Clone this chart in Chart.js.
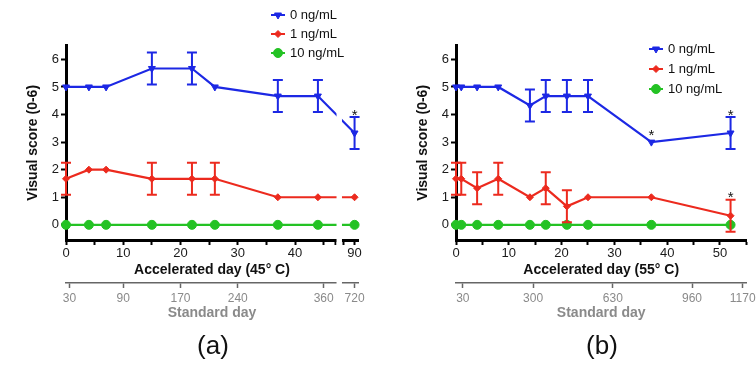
<!DOCTYPE html>
<html>
<head>
<meta charset="utf-8">
<script src="https://cdn.jsdelivr.net/npm/chart.js@4.4.1/dist/chart.umd.min.js"></script>
<style>
html,body{margin:0;padding:0;background:#fff;}
#wrap{position:relative;width:756px;height:366px;overflow:hidden;}
canvas{position:absolute;top:0;}
#ca{left:0;}
#cb{left:378px;}
</style>
</head>
<body>
<div id="wrap">
<canvas id="ca" width="378" height="366"></canvas>
<canvas id="cb" width="378" height="366"></canvas>
</div>
<script>
// ---------- data ----------
const seriesNames = ['0 ng/mL', '1 ng/mL', '10 ng/mL'];

// panel (a): accelerated at 45 C
const daysA     = [0, 4, 7, 15, 22, 26, 37, 44, 90];
const blueA     = [5, 5, 5, 5.67, 5.67, 5, 4.67, 4.67, 3.33];
const blueErrA  = [0, 0, 0, 0.58, 0.58, 0, 0.58, 0.58, 0.58];
const redA      = [1.67, 2, 2, 1.67, 1.67, 1.67, 1, 1, 1];
const redErrA   = [0.58, 0, 0, 0.58, 0.58, 0.58, 0, 0, 0];
const greenA    = [0, 0, 0, 0, 0, 0, 0, 0, 0];
const greenErrA = [0, 0, 0, 0, 0, 0, 0, 0, 0];
const blueStarA = [0, 0, 0, 0, 0, 0, 0, 0, 1];
const redStarA  = [0, 0, 0, 0, 0, 0, 0, 0, 0];
const greenStarA= [0, 0, 0, 0, 0, 0, 0, 0, 0];

// panel (b): accelerated at 55 C
const daysB     = [0, 1, 4, 8, 14, 17, 21, 25, 37, 52];
const blueB     = [5, 5, 5, 5, 4.33, 4.67, 4.67, 4.67, 3, 3.33];
const blueErrB  = [0, 0, 0, 0, 0.58, 0.58, 0.58, 0.58, 0, 0.58];
const redB      = [1.67, 1.67, 1.33, 1.67, 1, 1.33, 0.67, 1, 1, 0.33];
const redErrB   = [0.58, 0.58, 0.58, 0.58, 0, 0.58, 0.58, 0, 0, 0.58];
const greenB    = [0, 0, 0, 0, 0, 0, 0, 0, 0, 0];
const greenErrB = [0, 0, 0, 0, 0, 0, 0, 0, 0, 0];
const blueStarB = [0, 0, 0, 0, 0, 0, 0, 0, 1, 1];
const redStarB  = [0, 0, 0, 0, 0, 0, 0, 0, 0, 1];
const greenStarB= [0, 0, 0, 0, 0, 0, 0, 0, 0, 0];

// tick labels
const accelTicksA = [0, 10, 20, 30, 40, 90];
const accelMinorA = [5, 15, 25, 35, 45];
const stdLabelsA  = ['30', '90', '170', '240', '360', '720'];
const stdAtA      = [0.6, 10, 20, 30, 45, 90];      // accelerated day under each standard tick
const accelTicksB = [0, 10, 20, 30, 40, 50];
const accelMinorB = [5, 15, 25, 35, 45, 55];
const stdLabelsB  = ['30', '300', '630', '960', '1170'];
const stdAtB      = [1.3, 14.6, 29.7, 44.7, 54.3];
const yTicks      = [0, 1, 2, 3, 4, 5, 6];

// ---------- style ----------
const FONT = "Arial, 'Liberation Sans', sans-serif";
const COLORS = ['#1c28e4', '#ec2a1e', '#24c224'];
const MARKS = [
  {style: 'triangle', rot: 180, r: 4},
  {style: 'rectRot', rot: 0, r: 3.5},
  {style: 'circle', rot: 0, r: 4.5}
];

// broken axis for panel (a): 0..47 kept, 88..90.6 shown after gap
const BREAK_A = {from: 47, to: 48.4, resume: 88};
function mapA(d) { return d <= BREAK_A.from ? d : d - BREAK_A.resume + BREAK_A.to; }
function ident(d) { return d; }

function makeSets(days, mapX, vals, errs, stars) {
  return vals.map((v, k) => ({
    label: seriesNames[k],
    data: days.map((d, i) => ({x: mapX(d), y: v[i]})),
    errors: errs[k],
    stars: stars[k],
    borderColor: COLORS[k],
    backgroundColor: COLORS[k],
    pointBackgroundColor: COLORS[k],
    pointBorderColor: COLORS[k],
    borderWidth: 2.2,
    pointRadius: MARKS[k].r,
    pointStyle: MARKS[k].style,
    pointRotation: MARKS[k].rot,
    pointBorderWidth: 1,
    tension: 0,
    clip: false
  }));
}

// ---------- plugins ----------
const errorBars = {
  id: 'errorBars',
  afterDatasetsDraw(chart) {
    const ctx = chart.ctx, ys = chart.scales.y;
    chart.data.datasets.forEach((ds, di) => {
      const meta = chart.getDatasetMeta(di);
      ctx.save();
      ctx.strokeStyle = ds.borderColor;
      ctx.lineWidth = 2;
      meta.data.forEach((el, i) => {
        const e = ds.errors ? ds.errors[i] : 0;
        if (!e) return;
        const v = ds.data[i].y;
        const t = ys.getPixelForValue(v + e), b = ys.getPixelForValue(v - e);
        ctx.beginPath();
        ctx.moveTo(el.x, t); ctx.lineTo(el.x, b);
        ctx.moveTo(el.x - 5, t); ctx.lineTo(el.x + 5, t);
        ctx.moveTo(el.x - 5, b); ctx.lineTo(el.x + 5, b);
        ctx.stroke();
      });
      ctx.restore();
    });
  }
};

const starMarks = {
  id: 'starMarks',
  afterDatasetsDraw(chart) {
    const ctx = chart.ctx, ys = chart.scales.y;
    ctx.save();
    ctx.fillStyle = '#111';
    ctx.font = '15px ' + FONT;
    ctx.textAlign = 'center';
    ctx.textBaseline = 'alphabetic';
    chart.data.datasets.forEach((ds, di) => {
      const meta = chart.getDatasetMeta(di);
      meta.data.forEach((el, i) => {
        if (!ds.stars || !ds.stars[i]) return;
        const e = ds.errors ? ds.errors[i] : 0;
        const v = ds.data[i].y;
        let cy;
        if (e) cy = ys.getPixelForValue(v + e) - 6;
        else cy = ys.getPixelForValue(v) - 11;
        ctx.fillText('*', el.x, cy + 8.5);
      });
    });
    ctx.restore();
  }
};

const axisBreak = {
  id: 'axisBreak',
  afterDraw(chart, args, opts) {
    if (!opts || !opts.enabled) return;
    const ctx = chart.ctx, xs = chart.scales.x, x2 = chart.scales.x2;
    const l = xs.getPixelForValue(opts.from), r = xs.getPixelForValue(opts.to);
    ctx.save();
    ctx.fillStyle = '#fff';
    ctx.fillRect(l, chart.chartArea.top, r - l, x2.top + 4 - chart.chartArea.top);
    ctx.restore();
  }
};

const customLegend = {
  id: 'customLegend',
  afterDraw(chart, args, opts) {
    const ctx = chart.ctx;
    const H = Chart.helpers;
    chart.data.datasets.forEach((ds, i) => {
      const x = opts.x, y = opts.y + i * opts.dy;
      ctx.save();
      ctx.strokeStyle = ds.borderColor;
      ctx.lineWidth = 2;
      ctx.beginPath(); ctx.moveTo(x - 7, y); ctx.lineTo(x + 7, y); ctx.stroke();
      ctx.fillStyle = ds.pointBackgroundColor;
      ctx.strokeStyle = ds.pointBorderColor;
      ctx.lineWidth = 1;
      if (H && H.drawPoint) {
        H.drawPoint(ctx, {pointStyle: ds.pointStyle, radius: ds.pointRadius, rotation: ds.pointRotation, borderWidth: 1}, x, y);
      } else {
        ctx.beginPath(); ctx.arc(x, y, ds.pointRadius, 0, Math.PI * 2); ctx.fill();
      }
      ctx.fillStyle = '#111';
      ctx.font = '13px ' + FONT;
      ctx.textAlign = 'left';
      ctx.textBaseline = 'middle';
      ctx.fillText(ds.label, x + 12, y + 0.5);
      ctx.restore();
    });
  }
};

const panelLabel = {
  id: 'panelLabel',
  afterDraw(chart, args, opts) {
    const ctx = chart.ctx;
    ctx.save();
    ctx.fillStyle = '#111';
    ctx.font = '26px ' + FONT;
    ctx.textAlign = 'center';
    ctx.textBaseline = 'middle';
    ctx.fillText(opts.text, opts.x, opts.y);
    ctx.restore();
  }
};

function labeler(pos, labs) {
  return function (v) {
    for (let i = 0; i < pos.length; i++) if (Math.abs(pos[i] - v) < 1e-6) return labs[i];
    return '';
  };
}

function buildChart(id, p) {
  const accPos = p.accelTicks.map(p.mapX);
  const tickPos = accPos.concat(p.accelMinor.map(p.mapX), p.extraTicks).sort((a, b) => a - b);
  const stdPos = p.stdAt.map(p.mapX);
  return new Chart(document.getElementById(id), {
    type: 'line',
    data: {datasets: p.datasets},
    options: {
      responsive: false,
      animation: false,
      events: [],
      layout: {padding: {top: 45.6, right: p.padRight, left: 0, bottom: 0}},
      plugins: {
        legend: {display: false},
        tooltip: {enabled: false},
        customLegend: p.legend,
        panelLabel: p.label,
        axisBreak: p.axisBreak
      },
      scales: {
        x: {
          type: 'linear', position: 'bottom', min: 0, max: p.xMax,
          afterBuildTicks: s => { s.ticks = tickPos.map(v => ({value: v})); },
          afterFit: s => { s.height = 43; },
          ticks: {autoSkip: false, maxRotation: 0, padding: 1, color: '#1a1a1a',
                  font: {family: FONT, size: 13}, callback: labeler(accPos, p.accelTicks.map(String))},
          grid: {drawOnChartArea: false, drawTicks: true, tickLength: 5, tickWidth: 2, tickColor: '#000'},
          border: {display: true, color: '#000', width: 3},
          title: {display: true, text: p.xTitle, color: '#111',
                  font: {family: FONT, size: 14, weight: 'bold'}, padding: {top: 0, bottom: 4.6}}
        },
        x2: {
          type: 'linear', position: 'bottom', min: 0, max: p.xMax,
          afterBuildTicks: s => { s.ticks = stdPos.map(v => ({value: v})); },
          afterFit: s => { s.height = 83; s.paddingLeft = 0; s.paddingRight = 0; },
          ticks: {autoSkip: false, maxRotation: 0, padding: 3, color: '#8a8a8a',
                  font: {family: FONT, size: 12}, callback: labeler(stdPos, p.stdLabels)},
          grid: {drawOnChartArea: false, drawTicks: true, tickLength: 5, tickWidth: 1.5, tickColor: '#666'},
          border: {display: true, color: '#666', width: 1.5},
          title: {display: true, text: 'Standard day', color: '#8a8a8a',
                  font: {family: FONT, size: 14, weight: 'bold'}, padding: {top: 0, bottom: 44.6}}
        },
        y: {
          type: 'linear', position: 'left', min: -0.55, max: 6.5,
          afterBuildTicks: s => { s.ticks = yTicks.map(v => ({value: v})); },
          afterFit: s => { s.width = p.yWidth; },
          ticks: {padding: 2, color: '#1a1a1a', font: {family: FONT, size: 13}},
          grid: {drawOnChartArea: false, drawTicks: true, tickLength: 5, tickWidth: 2, tickColor: '#000'},
          border: {display: true, color: '#000', width: 3},
          title: {display: true, text: 'Visual score (0-6)', color: '#111',
                  font: {family: FONT, size: 14, weight: 'bold'}, padding: {top: p.yTitlePad, bottom: 0}}
        }
      }
    },
    plugins: [errorBars, starMarks, axisBreak, customLegend, panelLabel]
  });
}

buildChart('ca', {
  datasets: makeSets(daysA, mapA, [blueA, redA, greenA], [blueErrA, redErrA, greenErrA], [blueStarA, redStarA, greenStarA]),
  mapX: mapA, xMax: 51,
  accelTicks: accelTicksA, accelMinor: accelMinorA, extraTicks: [BREAK_A.from, BREAK_A.to],
  stdLabels: stdLabelsA, stdAt: stdAtA,
  xTitle: 'Accelerated day (45\u00B0 C)',
  yWidth: 66, yTitlePad: 24.5, padRight: 20,
  legend: {x: 278, y: 15, dy: 19},
  label: {text: '(a)', x: 213, y: 347},
  axisBreak: {enabled: true, from: 47.25, to: 48.2}
});

buildChart('cb', {
  datasets: makeSets(daysB, ident, [blueB, redB, greenB], [blueErrB, redErrB, greenErrB], [blueStarB, redStarB, greenStarB]),
  mapX: ident, xMax: 55,
  accelTicks: accelTicksB, accelMinor: accelMinorB, extraTicks: [],
  stdLabels: stdLabelsB, stdAt: stdAtB,
  xTitle: 'Accelerated day (55\u00B0 C)',
  yWidth: 78, yTitlePad: 36.6, padRight: 9.6,
  legend: {x: 278, y: 49, dy: 20},
  label: {text: '(b)', x: 224, y: 347},
  axisBreak: {enabled: false}
});
</script>
</body>
</html>
